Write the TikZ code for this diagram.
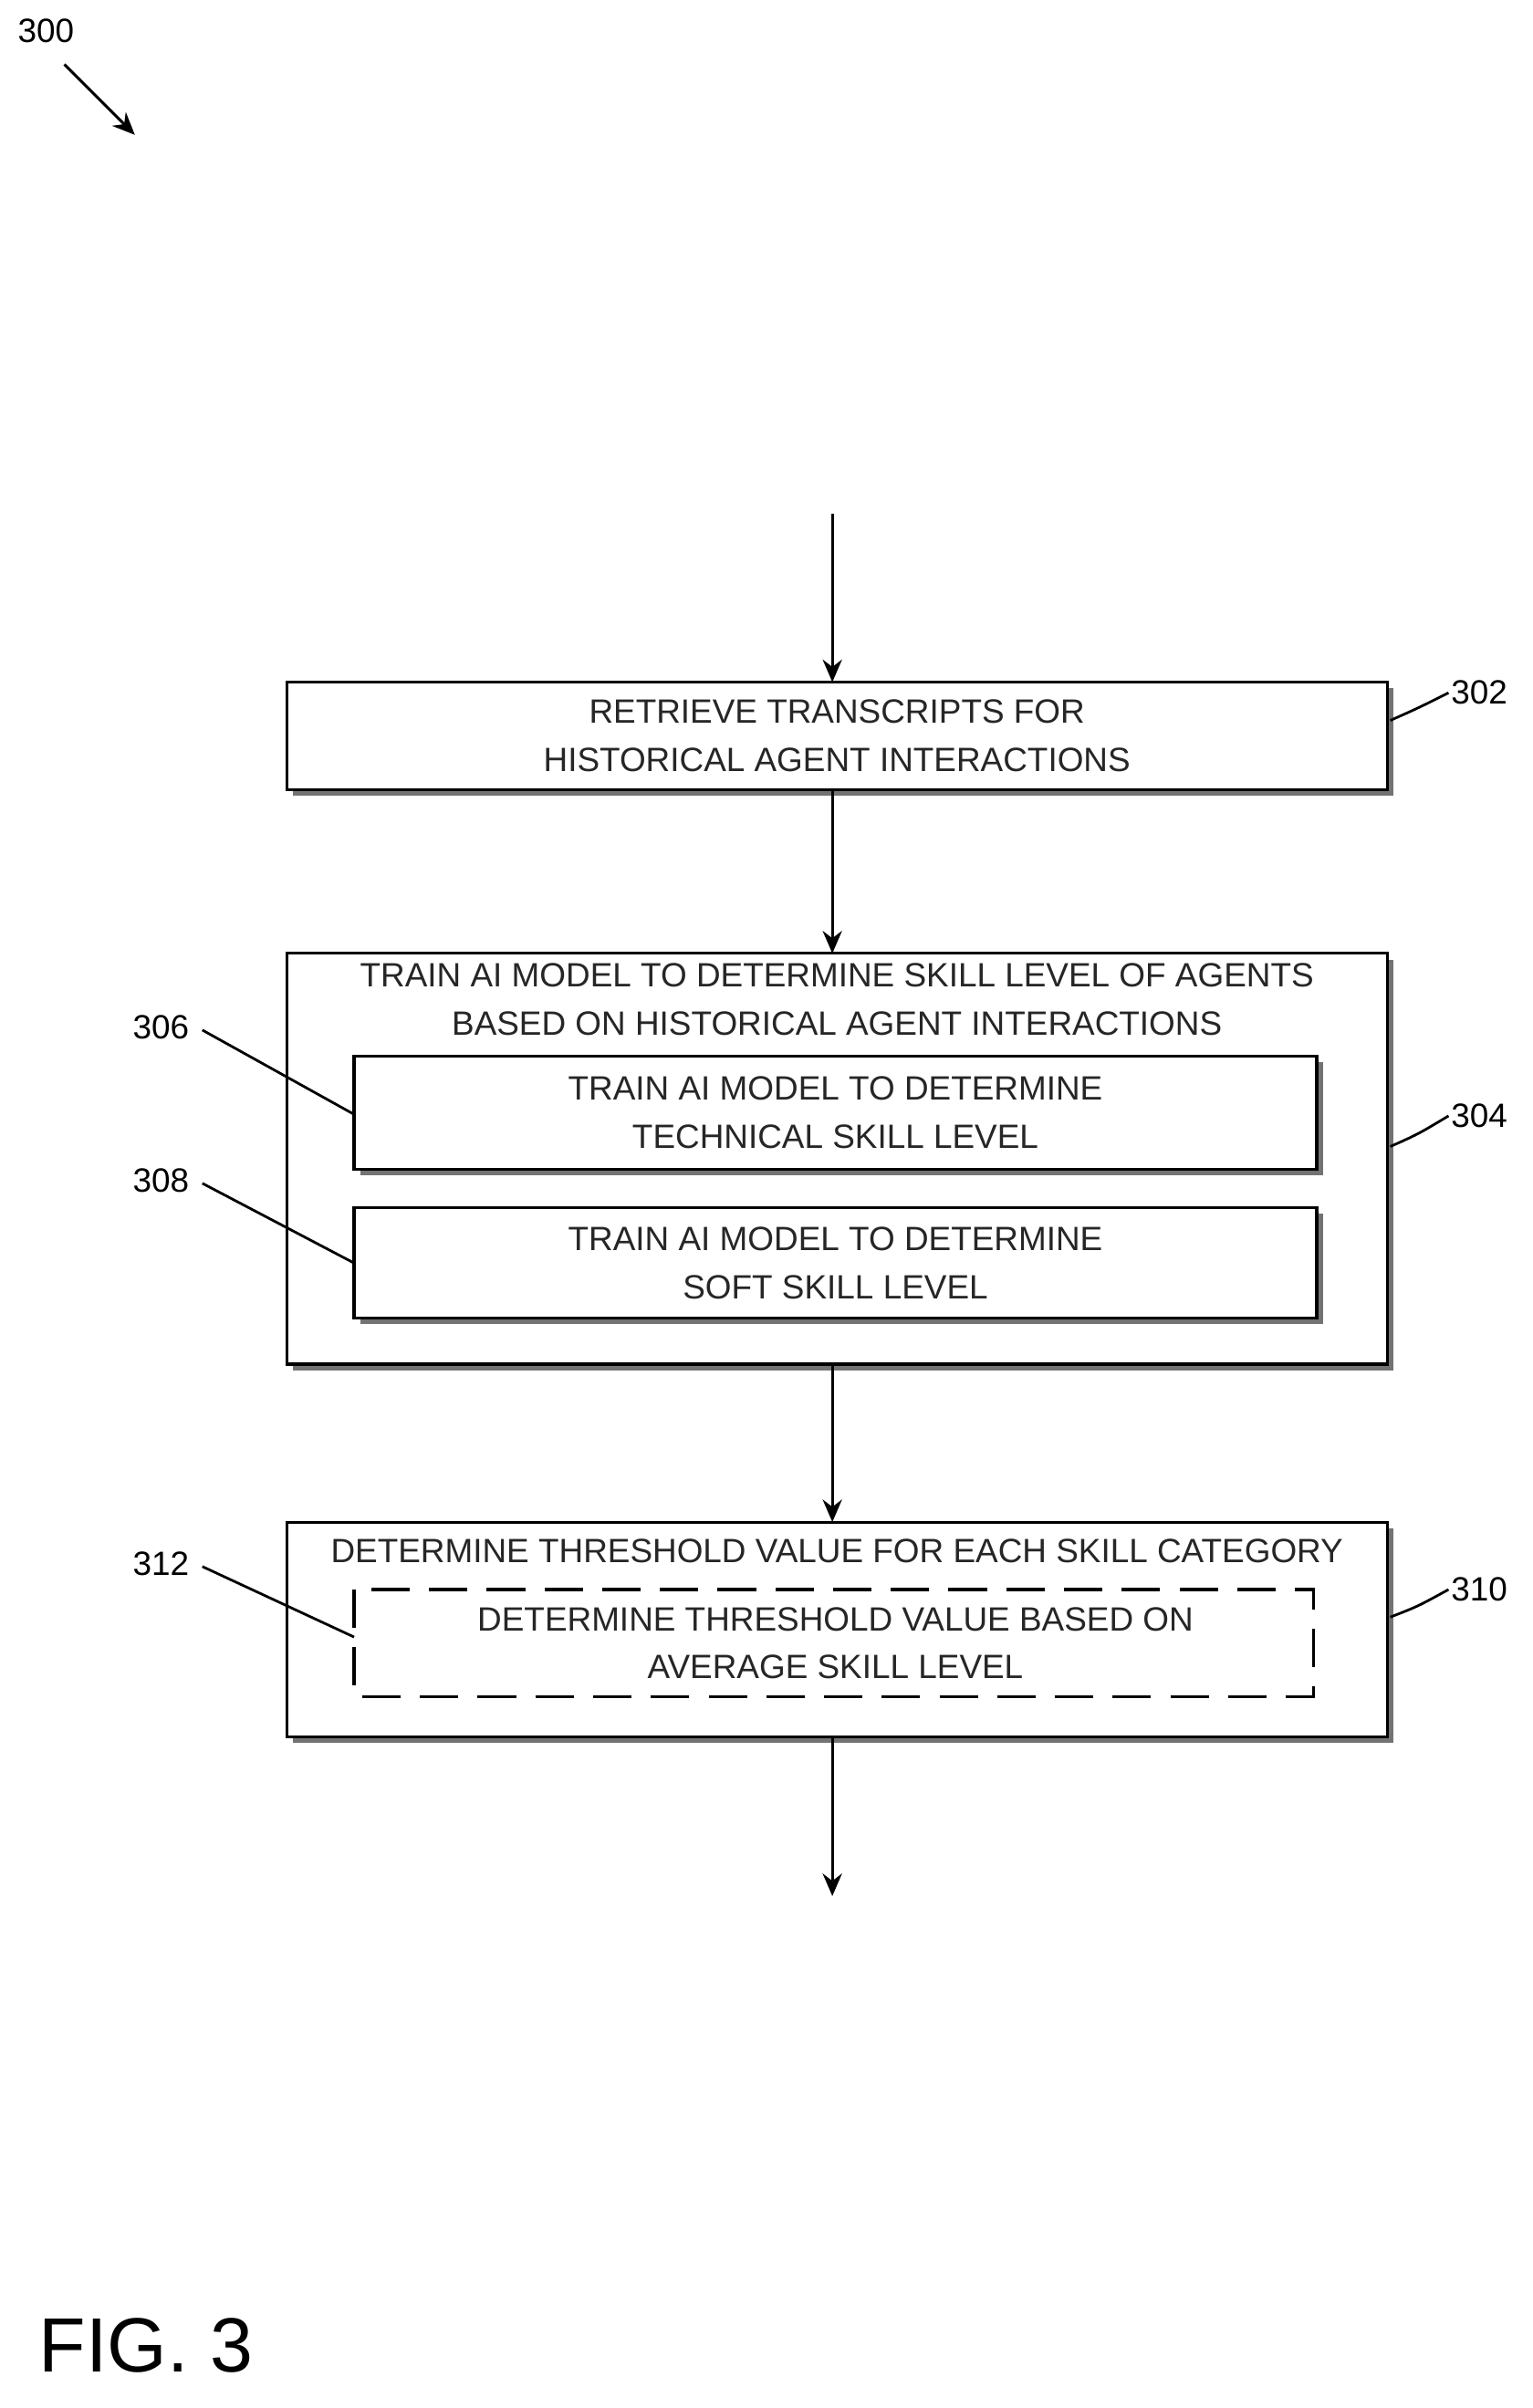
\documentclass[tikz,border=0pt]{standalone}
\usepackage{fontspec}
\setmainfont{Liberation Sans}
\usetikzlibrary{arrows.meta}
\begin{document}
\begin{tikzpicture}[x=0.0168cm,y=-0.0168cm,
  box/.style={draw=black,line width=0.9pt,fill=white},
  shd/.style={fill=black!55},
  txt/.style={font=\fontsize{10.5}{15}\selectfont,align=center,text=black!85},
  lbl/.style={font=\fontsize{10.5}{13}\selectfont},
  arr/.style={line width=0.9pt,-{Stealth[length=7pt,width=6pt]}},
  lead/.style={line width=0.8pt}]
\useasboundingbox (0,0) rectangle (1000,1571);
% 300
\node[lbl] (l300) at (30,20) {300};
\coordinate (a300s) at (42,42);
\coordinate (a300e) at (88,88);
\draw[arr] (a300s) -- (a300e);
% shadows
\fill[shd] (191,449) rectangle (909,519);
\fill[shd] (191,626) rectangle (909,894);
\fill[shd] (191,997) rectangle (909,1137);
% boxes
\draw[box] (187,445) rectangle (905,515);
\node[txt] (b302) at (546,480) {RETRIEVE TRANSCRIPTS FOR\\HISTORICAL AGENT INTERACTIONS};
\draw[box] (187,622) rectangle (905,890);
\node[txt] (b304) at (546,652) {TRAIN AI MODEL TO DETERMINE SKILL LEVEL OF AGENTS\\BASED ON HISTORICAL AGENT INTERACTIONS};
\fill[shd] (235,693) rectangle (863,767);
\draw[box] (231,689) rectangle (859,763);
\node[txt] (b306) at (545,726) {TRAIN AI MODEL TO DETERMINE\\TECHNICAL SKILL LEVEL};
\fill[shd] (235,792) rectangle (863,864);
\draw[box] (231,788) rectangle (859,860);
\node[txt] (b308) at (545,824) {TRAIN AI MODEL TO DETERMINE\\SOFT SKILL LEVEL};
\draw[box] (187,993) rectangle (905,1133);
\node[txt] (b310) at (546,1012) {DETERMINE THRESHOLD VALUE FOR EACH SKILL CATEGORY};
\draw[box,dashed,dash pattern=on 12pt off 6pt] (231,1037) rectangle (857,1107);
\node[txt] (b312) at (545,1072) {DETERMINE THRESHOLD VALUE BASED ON\\AVERAGE SKILL LEVEL};
% arrows
\coordinate (top) at (543,335);
\coordinate (bot) at (543,1237);
\coordinate (t302) at (543,445); \coordinate (b302e) at (543,515);
\coordinate (t304) at (543,622); \coordinate (b304e) at (543,890);
\coordinate (t310) at (543,993); \coordinate (b310e) at (543,1133);
\draw[arr] (top) -- (t302);
\draw[arr] (b302e) -- (t304);
\draw[arr] (b304e) -- (t310);
\draw[arr] (b310e) -- (bot);
% labels
\node[lbl] (l302) at (965,452) {302};
\draw[lead] (907,470) .. controls (925,462) .. (945,452);
\node[lbl] (l304) at (965,728) {304};
\draw[lead] (907,748) .. controls (925,740) .. (945,728);
\node[lbl] (l310) at (965,1037) {310};
\draw[lead] (907,1055) .. controls (925,1048) .. (945,1037);
\node[lbl] (l306) at (105,670) {306};
\draw[lead] (132,672) -- (231,727);
\node[lbl] (l308) at (105,770) {308};
\draw[lead] (132,772) -- (231,824);
\node[lbl] (l312) at (105,1020) {312};
\draw[lead] (132,1022) -- (231,1068);
\node[font=\fontsize{24}{28}\selectfont,anchor=west] (fig) at (18,1530) {FIG. 3};
\end{tikzpicture}
\end{document}
